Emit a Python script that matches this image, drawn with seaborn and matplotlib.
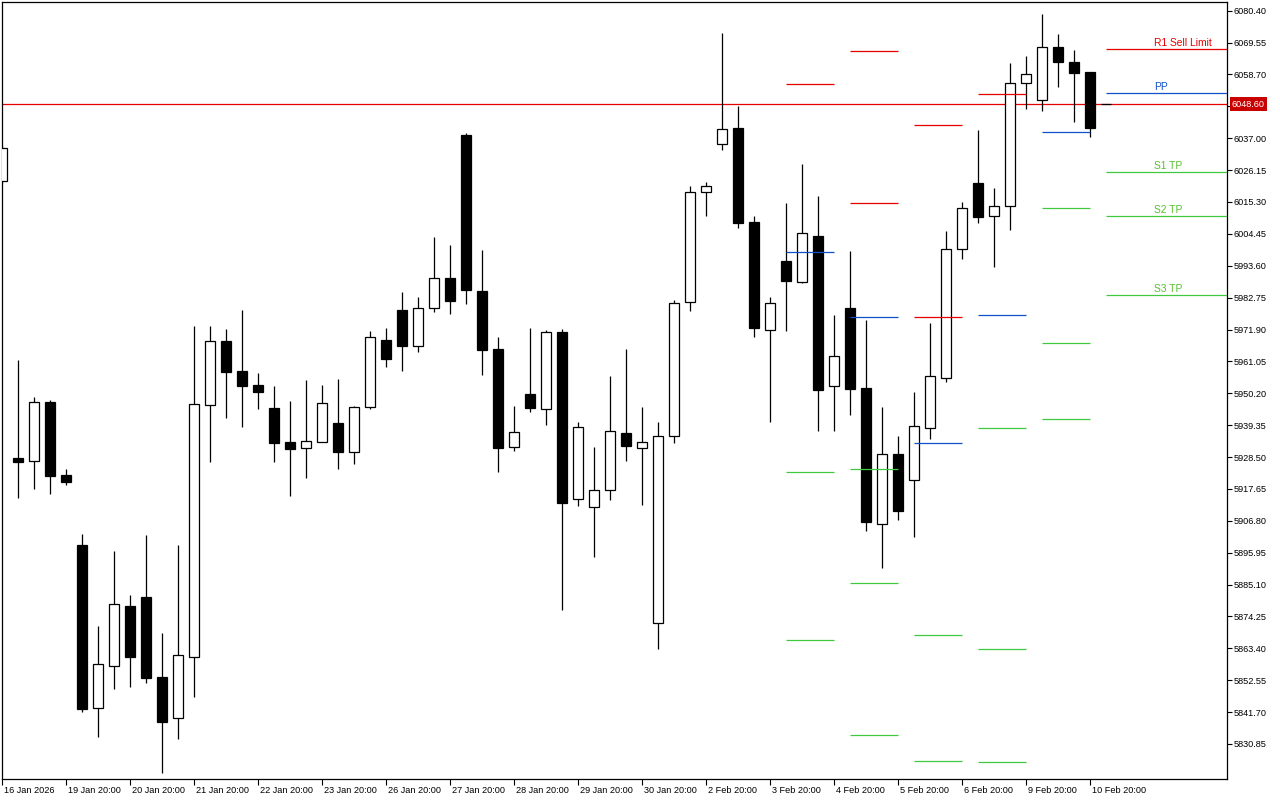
import numpy as np
import pandas as pd
import matplotlib
matplotlib.use("Agg")
import matplotlib.pyplot as plt
import matplotlib.transforms as mtransforms
import seaborn as sns

# candle data (one bar per 6h)
opens = [6022.44, 5928.17, 5927.05, 5947.13, 5922.39, 5898.57, 5842.99, 5857.28, 5877.81, 5880.87,
         5853.64, 5839.59, 5860.35, 5946.11, 5967.89, 5957.78, 5953.02, 5945.19, 5933.62, 5931.48,
         5933.72, 5940.08, 5930.32, 5945.43, 5968.33, 5978.54, 5966.39, 5979.12, 5989.33, 6038.10,
         5985.01, 5965.27, 5931.82, 5949.85, 5944.75, 5970.95, 5914.12, 5911.39, 5917.18, 5936.58,
         5931.48, 5872.12, 5935.56, 5981.16, 6018.60, 6035.03, 6040.48, 6008.39, 5971.63, 5995.22,
         5987.97, 6003.72, 5952.57, 5979.12, 5952.00, 5905.61, 5929.53, 5920.58, 5938.28, 5955.30,
         5999.20, 6021.66, 6010.43, 6013.83, 6055.69, 6049.91, 6067.94, 6062.94, 6059.54]
highs = [6034.70, 5961.52, 5948.93, 5947.91, 5924.43, 5902.31, 5871.00, 5896.52, 5881.55, 5901.97,
         5868.72, 5898.57, 5973.10, 5973.10, 5972.07, 5978.54, 5957.10, 5952.68, 5947.57, 5954.72,
         5953.02, 5955.06, 5945.87, 5971.39, 5972.42, 5984.67, 5982.96, 6003.38, 6000.66, 6038.68,
         5998.96, 5969.25, 5945.87, 5972.42, 5971.73, 5971.97, 5940.32, 5931.92, 5956.08, 5965.27,
         5945.53, 5940.32, 5981.84, 6020.74, 6022.10, 6072.81, 6047.97, 6010.53, 5982.96, 6014.96,
         6028.23, 6017.34, 5976.84, 5998.62, 5975.14, 5945.53, 5935.66, 5950.63, 5974.12, 6005.43,
         6015.30, 6039.80, 6020.06, 6062.50, 6064.98, 6079.28, 6072.47, 6067.02, 6059.54]
lows = [6021.70, 5914.66, 5917.73, 5916.03, 5919.09, 5841.83, 5833.33, 5849.66, 5850.34, 5851.50,
        5820.87, 5832.44, 5846.94, 5926.91, 5941.89, 5938.83, 5944.95, 5926.91, 5915.34, 5921.47,
        5933.72, 5924.53, 5926.23, 5944.95, 5959.25, 5957.88, 5964.35, 5977.96, 5977.28, 5980.69,
        5956.52, 5923.51, 5930.66, 5943.93, 5939.51, 5876.55, 5911.94, 5894.58, 5913.98, 5927.25,
        5912.28, 5863.27, 5933.38, 5978.30, 6010.63, 6032.99, 6006.55, 5969.45, 5940.53, 5971.50,
        5987.63, 5937.47, 5937.47, 5942.91, 5903.43, 5890.64, 5907.18, 5901.39, 5934.74, 5954.14,
        5996.00, 6008.25, 5993.28, 6005.87, 6046.78, 6046.16, 6054.53, 6042.62, 6037.31]
closes = [6033.67, 5926.81, 5947.13, 5922.15, 5920.11, 5842.86, 5857.97, 5878.38, 5860.55, 5853.41,
          5838.43, 5861.03, 5946.45, 5967.89, 5957.54, 5952.78, 5950.74, 5933.38, 5931.34, 5933.86,
          5946.79, 5930.32, 5945.43, 5969.25, 5961.97, 5966.39, 5979.12, 5989.33, 5981.71, 5985.45,
          5965.03, 5931.68, 5936.92, 5945.29, 5970.95, 5912.96, 5938.62, 5917.18, 5937.26, 5932.36,
          5933.52, 5935.56, 5980.82, 6018.60, 6020.64, 6040.14, 6008.25, 5972.52, 5980.82, 5988.51,
          6004.64, 5951.42, 5962.78, 5951.76, 5906.50, 5929.43, 5910.24, 5938.96, 5955.98, 5999.20,
          6013.15, 6010.29, 6013.83, 6055.69, 6058.75, 6067.94, 6062.84, 6059.30, 6040.38]

current_price = 6048.60

# daily pivot segments: start bar of each day and its levels
pivot_day_start = [49, 53, 57, 61, 65]
pivot_red = [[6055.45], [6066.58, 6014.85], [6041.40, 5976.06], [6051.95], []]
pivot_blue = [[5998.18], [5976.06], [5933.18], [5976.74], [6039.02]]
pivot_green = [[5923.31, 5866.24], [5924.33, 5885.53, 5833.90], [5867.83, 5824.95],
               [5938.28, 5863.07, 5824.61], [6013.15, 5967.21, 5941.34]]

# current levels drawn on the right
level_names = ["R1 Sell Limit", "PP", "S1 TP", "S2 TP", "S3 TP"]
level_values = [6067.26, 6052.29, 6025.40, 6010.43, 5983.54]
level_kind = ["red", "blue", "green", "green", "green"]

y_ticks = [6080.40, 6069.55, 6058.70, 6047.85, 6037.00, 6026.15, 6015.30, 6004.45, 5993.60,
           5982.75, 5971.90, 5961.05, 5950.20, 5939.35, 5928.50, 5917.65, 5906.80, 5895.95,
           5885.10, 5874.25, 5863.40, 5852.55, 5841.70, 5830.85]
x_labels = ["16 Jan 2026", "19 Jan 20:00", "20 Jan 20:00", "21 Jan 20:00", "22 Jan 20:00",
            "23 Jan 20:00", "26 Jan 20:00", "27 Jan 20:00", "28 Jan 20:00", "29 Jan 20:00",
            "30 Jan 20:00", "2 Feb 20:00", "3 Feb 20:00", "4 Feb 20:00", "5 Feb 20:00",
            "6 Feb 20:00", "9 Feb 20:00", "10 Feb 20:00"]

RED = "#E60000"
BLUE = "#1050C8"
GREEN = "#40C840"
colors = {"red": RED, "blue": BLUE, "green": GREEN}
text_colors = {"red": RED, "blue": BLUE, "green": "#58C030"}

sns.set_theme(style="white")
plt.rcParams['font.family'] = ['Liberation Sans', 'DejaVu Sans']

df = pd.DataFrame({"open": opens, "high": highs, "low": lows, "close": closes})
df["bar"] = np.arange(len(df))
df["up"] = df["close"] >= df["open"]

fig = plt.figure(figsize=(12.8, 8), dpi=100)
ax = fig.add_axes([2 / 1280, 21 / 800, 1225 / 1280, 777 / 800])
ax.set_facecolor("white")

# bid line sits behind the candles
ax.axhline(current_price, color=RED, lw=0.9, zorder=1)

# candles
ax.vlines(df["bar"], df["low"], df["high"], color="black", lw=0.9, zorder=2)
body_lo = df[["open", "close"]].min(axis=1)
body_h = (df["close"] - df["open"]).abs().clip(lower=0.3)
ax.bar(df["bar"], body_h, bottom=body_lo, width=0.62,
       color=np.where(df["up"], "white", "black"), edgecolor="black", linewidth=0.9, zorder=3)

# daily pivot segments
for start, reds, blues, greens in zip(pivot_day_start, pivot_red, pivot_blue, pivot_green):
    for kind, levels in (("red", reds), ("blue", blues), ("green", greens)):
        if levels:
            ax.hlines(levels, start, start + 3, color=colors[kind], lw=0.9, zorder=4)

last = len(df) - 1
ax.hlines(current_price, last + 0.65, last + 1.3, color="black", lw=0.9, zorder=4)

x_max = 76.54
for name, val, kind in zip(level_names, level_values, level_kind):
    ax.hlines(val, last + 1, x_max, color=colors[kind], lw=0.9, zorder=4)
    ax.annotate(name, (72, val), xytext=(0, 1.2), textcoords="offset points",
                ha="left", va="bottom", fontsize=7.4, color=text_colors[kind], zorder=5)

ax.set_xlim(-0.02, x_max)
ax.set_ylim(5818.93, 6083.36)

# axes styling
for s in ax.spines.values():
    s.set_color("black")
    s.set_linewidth(0.9)
ax.yaxis.tick_right()
ax.set_yticks(y_ticks)
# the tick hidden under the price tag keeps its mark but shows no text
ax.set_yticklabels(["" if abs(v - current_price) < 2 else f"{v:.2f}" for v in y_ticks])
ax.tick_params(axis="y", direction="out", length=3.5, width=0.8, pad=1.5,
               labelsize=6.6, colors="black", right=True, left=False)
ax.set_xticks(np.arange(0, 4 * len(x_labels), 4))
ax.set_xticklabels(x_labels)
ax.tick_params(axis="x", direction="out", length=4, width=0.8, pad=1.2,
               labelsize=6.6, colors="black", bottom=True)
offset = mtransforms.ScaledTranslation(2 / 100, 0, fig.dpi_scale_trans)
for lbl in ax.get_xticklabels():
    lbl.set_horizontalalignment("left")
    lbl.set_transform(lbl.get_transform() + offset)
ax.grid(False)

# current price tag on the price scale
tag_tr = mtransforms.blended_transform_factory(ax.transAxes, ax.transData)
ax.text(1.0 + 5 / 1225, current_price, f"{current_price:.2f}", transform=tag_tr,
        ha="left", va="center", color="white", fontsize=6.6, zorder=10, clip_on=False,
        bbox=dict(boxstyle="square,pad=0.25", fc="#C80000", ec="none"))

fig.savefig("out.png", dpi=100, facecolor="white")
